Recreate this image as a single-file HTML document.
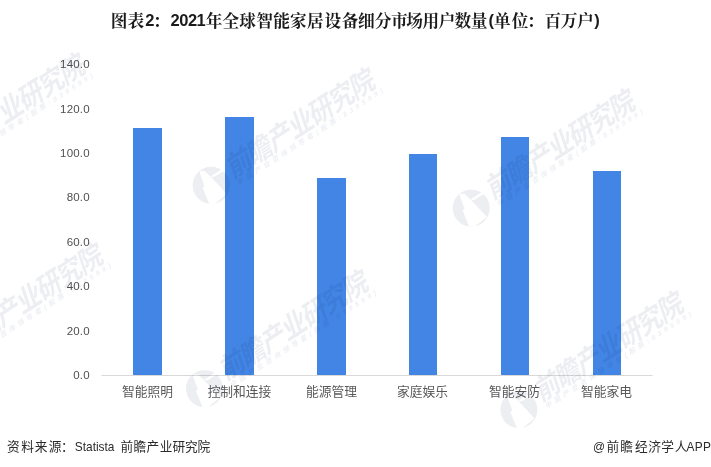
<!DOCTYPE html>
<html lang="zh">
<head>
<meta charset="utf-8">
<title>图表2：2021年全球智能家居设备细分市场用户数量</title>
<style>
html,body{margin:0;padding:0;background:#fff;}
body{width:711px;height:467px;overflow:hidden;position:relative;}
svg{display:block;position:absolute;left:0;top:0;}
.title{font-family:"Liberation Sans","Noto Serif CJK SC",serif;font-weight:bold;font-size:16.67px;fill:#1a1a1a;}
.lt{font-size:16.5px;}
.yl{font-family:"Liberation Sans","Noto Sans CJK SC",sans-serif;font-size:11.5px;fill:#505050;letter-spacing:0.18px;}
.xl{font-family:"Liberation Sans","Noto Sans CJK SC",sans-serif;font-size:12.75px;fill:#595959;}
.ft{font-family:"Liberation Sans","Noto Sans CJK SC",sans-serif;font-size:12.7px;fill:#2b2b2b;}
.fl{font-size:11.9px;}
.wm{font-family:"Liberation Sans","Noto Sans CJK SC",sans-serif;font-weight:700;font-size:25.5px;letter-spacing:-1.15px;}
.wms{font-family:"Liberation Sans","Noto Sans CJK SC",sans-serif;font-size:6.9px;font-weight:700;letter-spacing:3.5px;}
</style>
</head>
<body>
<svg width="711" height="467" viewBox="0 0 711 467">
<rect width="711" height="467" fill="#ffffff"/>
<defs>
<mask id="lgm" maskUnits="userSpaceOnUse" x="-20" y="-20" width="40" height="40">
  <rect x="-20" y="-20" width="40" height="40" fill="#fff"/>
  <polygon fill="#000" points="-10.8,-14.2 -6.7,-14.4 -0.2,-8.3 15.7,8.8 3.3,18.6 -2,18.6 -8.5,2.4 -6.7,0.6 -11.4,-12.4"/>
  <polygon fill="#000" points="-0.8,-8.8 11.6,-16.7 13,-14.4 2.7,-8.3"/>
</mask>
</defs>


<!-- bars -->
<g fill="#4285e4">
<rect x="133" y="128" width="29" height="247"/>
<rect x="225" y="117" width="29" height="258"/>
<rect x="317" y="178" width="29" height="197"/>
<rect x="409" y="154" width="28" height="221"/>
<rect x="501" y="137" width="28" height="238"/>
<rect x="593" y="171" width="28" height="204"/>
</g>
<rect x="101.5" y="375" width="551" height="1" fill="#d9d9d9"/>

<text class="title" y="26.6 26.6 26 26.6 26 26 26 26 26.6 26.6 26.6 26.6 26.6 26.6 26.6 26.6 26.6 26.6 26.6 26.6 26.6 26.6 26.6 26.6 26.6 26 26.6 26.6 26.6 26.6 26.6 26.6 26" x="110.8 127.6 145.2 153.0 170.6 179.3 187.9 196.5 205.8 222.5 239.2 256.2 273.2 290.1 307.0 324.5 341.7 358.1 374.8 391.0 406.2 422.5 438.6 454.4 470.7 488.5 494.1 511.7 527.1 544.6 560.7 577.1 594.2">图表<tspan class="lt">2</tspan>：<tspan class="lt">2021</tspan>年全球智能家居设备细分市场用户数量<tspan class="lt">(</tspan>单位：百万户<tspan class="lt">)</tspan></text>

<g class="yl" text-anchor="end">
<text x="89.8" y="68.2">140.0</text>
<text x="89.8" y="112.6">120.0</text>
<text x="89.8" y="157.0">100.0</text>
<text x="89.8" y="201.4">80.0</text>
<text x="89.8" y="245.9">60.0</text>
<text x="89.8" y="290.3">40.0</text>
<text x="89.8" y="334.7">20.0</text>
<text x="89.8" y="379.1">0.0</text>
</g>
<g class="xl" text-anchor="middle">
<text x="147.5" y="396">智能照明</text>
<text x="239.5" y="396">控制和连接</text>
<text x="331.5" y="396">能源管理</text>
<text x="422.5" y="396">家庭娱乐</text>
<text x="514.5" y="396">智能安防</text>
<text x="606.5" y="396">智能家电</text>
</g>
<text class="ft" y="451"><tspan x="6.95 21.2 34.8 48.7 61.1">资料来源：</tspan><tspan class="fl" x="74.8">Statista </tspan><tspan x="120.45 133.4 146.6 159.65 172.6 185.05 197.6">前瞻产业研究院</tspan></text>
<text class="ft" y="451"><tspan class="fl" x="592.9">@</tspan><tspan x="606.45 620.3 635 648.3 661.35 674.65">前瞻经济学人</tspan><tspan class="fl" x="686.4 694.8 703.1">APP</tspan></text>
<!-- watermarks -->
<g opacity="0.078" fill="#0c2458">
<g transform="translate(211.2,186.3)">
  <circle cx="0" cy="0" r="18.5" mask="url(#lgm)" transform="translate(0,-1)"/>
  <g transform="rotate(-32.8)">
    <g transform="skewX(-14)">
      <text class="wm" x="23.2" y="5.4" transform="translate(0,5.4) scale(1,1.1) translate(0,-5.4)">前瞻产业研究院</text>
      <text class="wms" x="26.8" y="14.2">中国产业咨询领导者(股票:839599)</text>
    </g>
  </g>
</g>
<g transform="translate(471.2,207.3)">
  <circle cx="0" cy="0" r="18.5" mask="url(#lgm)" transform="translate(0,0.9)"/>
  <g transform="rotate(-32.8)">
    <g transform="skewX(-14)">
      <text class="wm" x="23.2" y="5.4" transform="translate(0,5.4) scale(1,1.1) translate(0,-5.4)">前瞻产业研究院</text>
      <text class="wms" x="26.8" y="14.2">中国产业咨询领导者(股票:839599)</text>
    </g>
  </g>
</g>
<g transform="translate(-78.8,171.3)">
  <circle cx="0" cy="0" r="18.5" mask="url(#lgm)" transform="translate(0,0)"/>
  <g transform="rotate(-32.8)">
    <g transform="skewX(-14)">
      <text class="wm" x="23.2" y="5.4" transform="translate(0,5.4) scale(1,1.1) translate(0,-5.4)">前瞻产业研究院</text>
      <text class="wms" x="26.8" y="14.2">中国产业咨询领导者(股票:839599)</text>
    </g>
  </g>
</g>
<g transform="translate(-60.8,361.3)">
  <circle cx="0" cy="0" r="18.5" mask="url(#lgm)" transform="translate(0,0)"/>
  <g transform="rotate(-32.8)">
    <g transform="skewX(-14)">
      <text class="wm" x="23.2" y="5.4" transform="translate(0,5.4) scale(1,1.1) translate(0,-5.4)">前瞻产业研究院</text>
      <text class="wms" x="26.8" y="14.2">中国产业咨询领导者(股票:839599)</text>
    </g>
  </g>
</g>
<g transform="translate(204.5,388.2)">
  <circle cx="0" cy="0" r="18.5" mask="url(#lgm)" transform="translate(0,0.5)"/>
  <g transform="rotate(-32.8)">
    <g transform="skewX(-14)">
      <text class="wm" x="23.2" y="5.4" transform="translate(0,5.4) scale(1,1.1) translate(0,-5.4)">前瞻产业研究院</text>
      <text class="wms" x="26.8" y="14.2">中国产业咨询领导者(股票:839599)</text>
    </g>
  </g>
</g>
<g transform="translate(519.6,409.6)">
  <circle cx="0" cy="0" r="18.5" mask="url(#lgm)" transform="translate(-0.7,0)"/>
  <g transform="rotate(-32.8)">
    <g transform="skewX(-14)">
      <text class="wm" x="23.2" y="5.4" transform="translate(0,5.4) scale(1,1.1) translate(0,-5.4)">前瞻产业研究院</text>
      <text class="wms" x="26.8" y="14.2">中国产业咨询领导者(股票:839599)</text>
    </g>
  </g>
</g>
</g>
</svg>
</body>
</html>
